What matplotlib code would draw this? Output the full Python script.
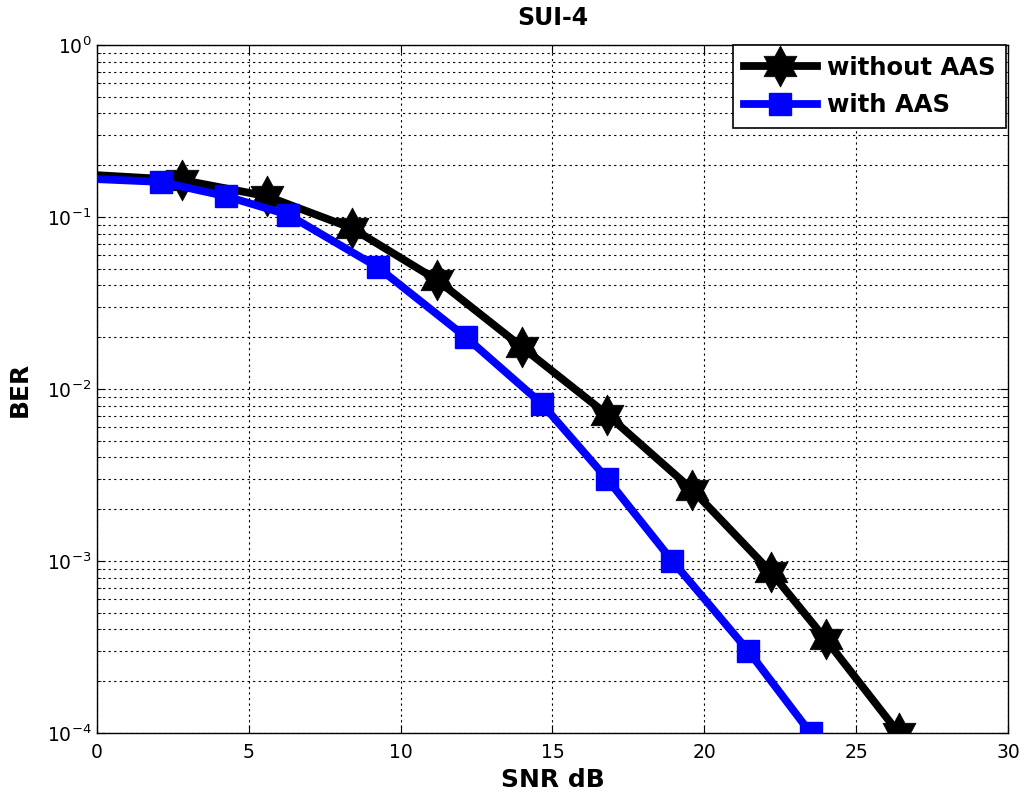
import matplotlib
matplotlib.use("Agg")
import numpy as np
import matplotlib.pyplot as plt
from matplotlib.path import Path
from matplotlib.ticker import LogLocator, NullFormatter, MultipleLocator

plt.rcParams['font.family'] = ['DejaVu Sans']
plt.rcParams['mathtext.fontset'] = 'dejavusans'

snr_without = [0.0, 2.8, 5.6, 8.4, 11.2, 14.0, 16.8, 19.6, 22.2, 24.0, 26.4]
ber_without = [0.175, 0.164, 0.132, 0.086, 0.043, 0.0175, 0.0071, 0.0026, 0.00086, 0.00035, 0.0001]
snr_with = [0.0, 2.1, 4.25, 6.3, 9.25, 12.15, 14.65, 16.8, 18.95, 21.45, 23.5]
ber_with = [0.166, 0.16, 0.132, 0.103, 0.051, 0.020, 0.0082, 0.003, 0.001, 0.0003, 0.0001]

# hexagram marker (six-pointed star, points up/down)
_ang = np.deg2rad(90 + 30 * np.arange(12))
_rad = np.where(np.arange(12) % 2 == 0, 1.0, 0.58)
_verts = np.column_stack([0.93 * _rad * np.cos(_ang), _rad * np.sin(_ang)])
_verts = np.vstack([_verts, _verts[:1]])
hexagram = Path(_verts, [Path.MOVETO] + [Path.LINETO] * 11 + [Path.CLOSEPOLY])

fig = plt.figure(figsize=(10.23, 7.96), dpi=100)
ax = fig.add_axes([0.0948, 0.0791, 0.8905, 0.8644])

ax.semilogy(snr_without, ber_without, color='black', lw=5.6, marker=hexagram,
            markersize=29.5, markeredgewidth=0.5, markevery=slice(1, None),
            label='without AAS', zorder=3)
ax.semilogy(snr_with, ber_with, color='blue', lw=5.6, marker='s', markersize=16.5,
            markeredgewidth=1, markeredgecolor='blue', markevery=slice(1, None),
            label='with AAS', zorder=4)

ax.set_xlim(0, 30)
ax.set_ylim(1e-4, 1)
ax.xaxis.set_major_locator(MultipleLocator(5))
ax.yaxis.set_major_locator(LogLocator(base=10, numticks=10))
ax.yaxis.set_minor_locator(LogLocator(base=10, subs=range(2, 10), numticks=20))
ax.yaxis.set_minor_formatter(NullFormatter())

ax.grid(True, which='major', color='black', linestyle=(0, (2, 3)), linewidth=0.8)
ax.grid(True, which='minor', axis='y', color='black', linestyle=(0, (2, 3)), linewidth=0.8)
ax.tick_params(which='both', direction='in', top=True, right=True, labelsize=13.5)
ax.tick_params(axis='x', which='major', pad=7)
ax.tick_params(axis='y', which='major', pad=4)
ax.tick_params(which='major', length=6)
ax.tick_params(which='minor', length=3)
for s in ax.spines.values():
    s.set_linewidth(1.0)

ax.text(0.5, 1 + (45 - 18) / 688, 'SUI-4', transform=ax.transAxes, ha='center',
        va='center', fontsize=17, fontweight='bold')
ax.set_xlabel('SNR dB', fontsize=18, fontweight='bold')
ax.xaxis.label.set_va('center')
ax.xaxis.set_label_coords(0.5, -(780 - 733) / 688)
ax.set_ylabel('BER', fontsize=18, fontweight='bold')
ax.yaxis.label.set_va('center')
ax.yaxis.set_label_coords((20 - 97) / 911, 0.5)

leg = ax.legend(loc='upper right', bbox_to_anchor=(1.0 - 2 / 911, 1.0), borderaxespad=0.0,
                prop={'weight': 'bold', 'size': 17.5},
                frameon=True, fancybox=False, edgecolor='black', framealpha=1,
                handlelength=3.0, handletextpad=0.4, borderpad=0.45, labelspacing=0.55)
leg.get_frame().set_linewidth(1.2)

fig.savefig('out.png', dpi=100)
